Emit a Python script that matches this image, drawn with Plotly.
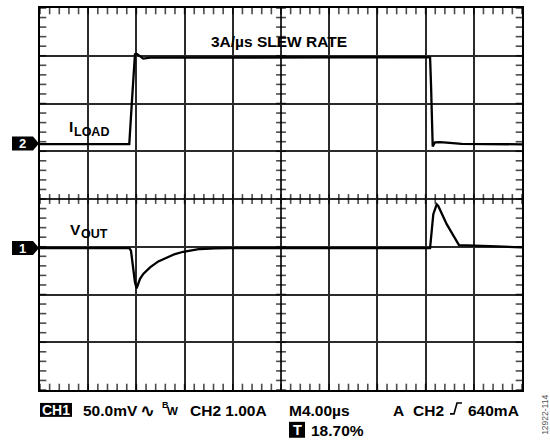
import numpy as np
import plotly.graph_objects as go

# ---------------- data ----------------
# Time axis: 4.00 us/div, 10 divisions
TIME_PER_DIV = 4.0
N_XDIV = 10
N_YDIV = 8
# CH1: VOUT, 50 mV/div ; CH2: ILOAD, 1.00 A/div
CH1_SCALE = 50.0
CH2_SCALE = 1.0
CH1_MARKER_DIV = -1.027   # ground marker "1" position (divisions from centre)
CH2_MARKER_DIV = 1.16     # ground marker "2" position

iload_t = [0.0, 7.41, 7.61, 7.74, 7.88, 8.07, 8.44, 8.57, 9.13, 20.0, 32.37,
           32.45, 32.53, 32.59, 32.78, 33.2, 34.0, 35.0, 40.0]
iload_a = [-0.01, -0.01, 0.81, 1.44, 1.87, 1.875, 1.80, 1.78, 1.80, 1.81, 1.81,
           1.23, 0.53, -0.06, 0.027, 0.03, 0.015, -0.005, -0.015]

vout_t = [0.0, 7.41, 7.55, 7.72, 7.88, 8.02, 8.30, 8.57, 9.13, 9.82, 10.51, 11.20,
          11.89, 12.59, 13.28, 14.52, 15.77, 32.37, 32.51, 32.64, 32.92, 33.05,
          33.75, 34.77, 37.34, 40.0]
vout_mv = [0.0, 0.0, -2.8, -20.2, -35.8, -42.1, -32.3, -27.1, -20.2, -14.0, -9.8, -6.3,
           -3.9, -2.1, -1.0, -0.4, 0.0, 0.0, 18.0, 35.4, 45.8, 44.1,
           25.0, 3.1, 1.9, 0.8]

# ---------------- layout geometry ----------------
W, H = 550, 442
ML, MR, MT, MB = 40, 28, 6, 52
PW, PH = W - ML - MR, H - MT - MB
FONT = "Liberation Sans, Arial, DejaVu Sans, sans-serif"


def px(x):
    return (x - ML) / PW


def py(y):
    return (H - MB - y) / PH


t_max = TIME_PER_DIV * N_XDIV
half = N_YDIV / 2

fig = go.Figure()

# graticule minor ticks (5 per division) on border and centre lines
minor_t = np.arange(0, t_max + 1e-9, TIME_PER_DIV / 5)
minor_y = np.arange(-half, half + 1e-9, 0.2)
tick_x, tick_y, tick_sym, tick_size = [], [], [], []
for yv, s in [(half, 9), (-half, 9), (0, 7)]:
    for tv in minor_t:
        tick_x.append(tv); tick_y.append(yv); tick_sym.append("line-ns"); tick_size.append(s)
for tv, s in [(0, 9), (t_max, 9), (t_max / 2, 7)]:
    for yv in minor_y:
        tick_x.append(tv); tick_y.append(yv); tick_sym.append("line-ew"); tick_size.append(s)
fig.add_trace(go.Scatter(
    x=tick_x, y=tick_y, mode="markers", hoverinfo="skip", showlegend=False,
    marker=dict(symbol=tick_sym, size=tick_size, color="black",
                line=dict(width=1.6, color="black")),
    cliponaxis=True, xaxis="x", yaxis="y"))

fig.add_trace(go.Scatter(x=iload_t, y=iload_a, mode="lines", yaxis="y3",
                         line=dict(color="black", width=2.3), showlegend=False))
fig.add_trace(go.Scatter(x=vout_t, y=vout_mv, mode="lines", yaxis="y2",
                         line=dict(color="black", width=2.3), showlegend=False))

grid = dict(showgrid=True, gridcolor="#2b2b2b", gridwidth=1.5, zeroline=False,
            showticklabels=False, ticks="", showline=True, linecolor="black",
            linewidth=2, mirror=True)
fig.update_layout(
    width=W, height=H, margin=dict(l=ML, r=MR, t=MT, b=MB, pad=0),
    paper_bgcolor="white", plot_bgcolor="white", showlegend=False,
    xaxis=dict(range=[0, t_max], dtick=TIME_PER_DIV, tick0=0, **grid),
    yaxis=dict(range=[-half, half], dtick=1, tick0=0, **grid),
    yaxis2=dict(range=[(-half - CH1_MARKER_DIV) * CH1_SCALE, (half - CH1_MARKER_DIV) * CH1_SCALE],
                overlaying="y", visible=False, showgrid=False, zeroline=False),
    yaxis3=dict(range=[(-half - CH2_MARKER_DIV) * CH2_SCALE, (half - CH2_MARKER_DIV) * CH2_SCALE],
                overlaying="y", visible=False, showgrid=False, zeroline=False),
)

shapes = []
# channel ground markers
for yref in ["y3", "y2"]:
    shapes.append(dict(type="path", xref="paper", xanchor=0, xsizemode="pixel",
                       yref=yref, yanchor=0, ysizemode="pixel",
                       path="M -28,-7 L -7,-7 L -1,0 L -7,7 L -28,7 Z",
                       fillcolor="black", line=dict(width=0)))
# CH1 and T inverted boxes
shapes.append(dict(type="rect", xref="paper", yref="paper", x0=px(40), x1=px(72),
                   y0=py(417), y1=py(403), fillcolor="black", line=dict(width=0)))
shapes.append(dict(type="rect", xref="paper", yref="paper", x0=px(289), x1=px(305),
                   y0=py(438), y1=py(422), fillcolor="black", line=dict(width=0)))
# trigger rising-edge symbol
shapes.append(dict(type="path", xref="paper", yref="paper",
                   path=f"M {px(450)},{py(414)} L {px(454)},{py(414)} L {px(457)},{py(403)} L {px(462)},{py(403)}",
                   line=dict(color="black", width=1.6)))
fig.update_layout(shapes=shapes)

anns = []


def txt(text, x, y, size, color="black", anchor="left", bold=True, xref="paper", yref="paper",
        family=FONT, **kw):
    anns.append(dict(text=text, x=x, y=y, xref=xref, yref=yref, xanchor=anchor,
                     yanchor="middle", showarrow=False, borderpad=0, borderwidth=0,
                     font=dict(family=family, size=size, color=color,
                               weight="bold" if bold else "normal"), **kw))


BIG = 15.5
txt("3A/µs SLEW RATE", px(211), py(40), BIG)
txt("I", px(69), py(125.5), BIG)
txt("LOAD", px(74), py(130.5), 12.5)
txt("V", px(70), py(229), BIG)
txt("OUT", px(81), py(233.5), 12.5)
txt("2", px(22.5), 0, 13, color="white", anchor="center", yref="y3")
txt("1", px(22.5), 0, 13, color="white", anchor="center", yref="y2")

txt("CH1", px(56), py(410), 14, color="white", anchor="center")
txt("50.0mV", px(83), py(410.5), BIG)
txt("∿", px(147), py(410.5), 18, anchor="center", family="DejaVu Sans")
txt("B", px(162), py(405), 9)
txt("W", px(167), py(411), 11.5)
txt("CH2 1.00A", px(190), py(410.5), BIG)
txt("M4.00µs", px(289), py(411), BIG)
txt("A", px(393), py(411), BIG)
txt("CH2", px(413), py(411), BIG)
txt("640mA", px(468), py(411), BIG)
txt("T", px(297), py(430), 14.5, color="white", anchor="center")
txt("18.70%", px(311), py(430.5), BIG)
txt("12922-114", px(545), py(415), 8.5, color="#555555", anchor="center", bold=False,
    textangle=-90)
fig.update_layout(annotations=anns)

fig.write_html("out.html", config={"displayModeBar": False},
               post_script="document.body.style.margin='0px';document.body.style.overflow='hidden';")
